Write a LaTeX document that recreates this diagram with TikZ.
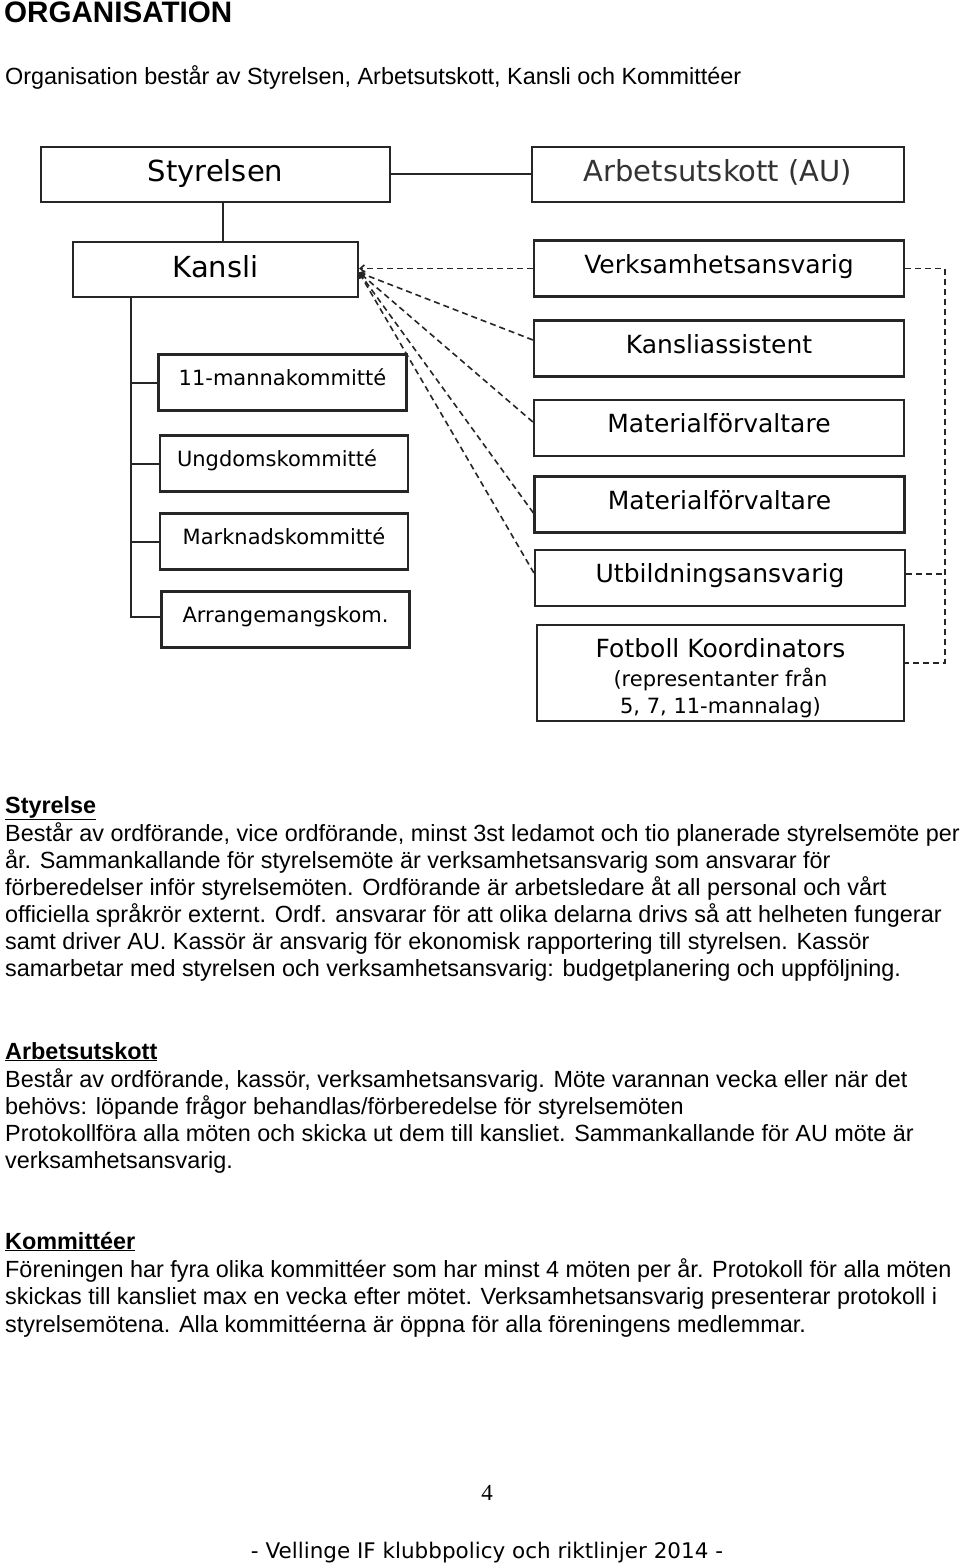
\documentclass[tikz,border=0pt]{standalone}
\usepackage{fontspec}
\setmainfont{Liberation Sans}
\newfontfamily\boxfont{DejaVu Sans}
\newfontfamily\numfont{Liberation Serif}
\usetikzlibrary{arrows.meta}
\colorlet{box line color}{black!85}
\tikzset{
    x={1pt},
    y={-1pt},
    org box/.style={
        draw=box line color,
        line width={2.2pt},
        inner sep=0pt,
        align=center,
        font={\boxfont\fontsize{#1}{27}\selectfont},
    },
    top box/.style={
        org box=29,
        text height=22pt,
        text depth=7pt,
        minimum height=55,
    },
    role box/.style={
        org box=25,
        text height=19pt,
        text depth=10pt,
        minimum width=370,
        minimum height=56,
    },
    committee box/.style={
        org box=21,
        text height=16pt,
        text depth=10.5pt,
        minimum width=248,
        minimum height=56,
    },
    tree line/.style={
        draw=box line color,
        line width={2pt},
    },
    link/.style={
        draw=black!85,
        line width={1.6pt},
        dash pattern=on 6pt off 4pt,
    },
    report link/.style={
        link,
        -{Straight Barb[length=4pt,width=7pt]},
    },
    body text/.style={
        anchor=base west,
        align=left,
        inner sep=0pt,
        font={\fontsize{23.4}{27}\selectfont},
    },
}

\begin{document}
\begin{tikzpicture}
\useasboundingbox (0,0) rectangle (960,1565);
% heading
\node[anchor=base west, inner sep=0pt, font={\bfseries\fontsize{29.6}{30}\selectfont}] (title) at (4,23) {ORGANISATION};
\node[body text] (intro) at (5,85) {Organisation består av Styrelsen, Arbetsutskott, Kansli och Kommittéer};
% boxes
\node[top box, minimum width=349] (styrelsen) at (215.5,174.5) {Styrelsen};
\node[top box, minimum width=372, text=black!80] (au) at (718,174.5) {Arbetsutskott (AU)};
\node[top box, minimum width=285] (kansli) at (215.5,269.5) {Kansli};
\node[role box] (verk) at (719,268.5) {Verksamhetsansvarig};
\node[role box] (kass) at (719,348.5) {Kansliassistent};
\node[role box] (mat1) at (719,428) {Materialförvaltare};
\node[role box] (mat2) at (719.5,504.5) {Materialförvaltare};
\node[role box] (utb) at (720,578) {Utbildningsansvarig};
\node[org box=21, minimum width=367, minimum height=96] (fotb) at (720.5,673)
    {\rule{0pt}{29pt}{\fontsize{25}{27}\selectfont Fotboll Koordinators}\\[2pt]
     (representanter från\\ 5, 7, 11-mannalag)};
\node[committee box] (manna) at (282.5,382.5) {11-mannakommitté};
\node[committee box] (ungdom) at (284,463.5) {Ungdomskommitté\hspace{14pt}};
\node[committee box] (markn) at (284,541.5) {Marknadskommitté};
\node[committee box] (arrang) at (285.5,619.5) {Arrangemangskom.};
% solid lines
\coordinate (trunk) at (131,0);
\draw[tree line] (styrelsen) -- (au);
\draw[tree line] ([xshift=7pt]styrelsen.south) -- ([xshift=7pt]kansli.north);
\draw[tree line] (kansli.south -| trunk) |- ([yshift=3pt]arrang.west);
\foreach \k in {manna,ungdom,markn}
    \draw[tree line] (\k.west) -- (\k.west -| trunk);
% dashed links
\draw[report link] (verk.west) -- (verk.west -| kansli.east);
\draw[report link] ([yshift=8.5pt]kass.west) -- ([yshift=-3pt]kansli.east);
\draw[report link] ([yshift=6pt]mat1.west) -- ([yshift=-3pt]kansli.east);
\draw[report link] ([yshift=-8.5pt]mat2.west) -- ([yshift=-3pt]kansli.east);
\draw[report link] ([yshift=5pt]utb.west) -- ([yshift=-3pt]kansli.east);
\coordinate (rail) at (945,0);
\draw[link] (verk.east) -- (verk.east -| rail) |- ([yshift=10pt]fotb.east);
\draw[link] ([yshift=4pt]utb.east) -- ([yshift=4pt]utb.east -| rail);
% text (anchored at the last line)
\node[body text] (styrelse text) at (5,976) {\textbf{\underline{Styrelse}}\\[1pt]
Består av ordförande, vice ordförande, minst 3st ledamot och tio planerade styrelsemöte per\\
år. Sammankallande för styrelsemöte är verksamhetsansvarig som ansvarar för\\
förberedelser inför styrelsemöten. Ordförande är arbetsledare åt all personal och vårt\\
officiella språkrör externt. Ordf. ansvarar för att olika delarna drivs så att helheten fungerar\\
samt driver AU. Kassör är ansvarig för ekonomisk rapportering till styrelsen. Kassör\\
samarbetar med styrelsen och verksamhetsansvarig: budgetplanering och uppföljning.};
\node[body text] (au text) at (5,1168) {\textbf{\underline{Arbetsutskott}}\\[1pt]
Består av ordförande, kassör, verksamhetsansvarig. Möte varannan vecka eller när det\\
behövs: löpande frågor behandlas/förberedelse för styrelsemöten\\
Protokollföra alla möten och skicka ut dem till kansliet. Sammankallande för AU möte är\\
verksamhetsansvarig.};
\node[body text] (komm text) at (5,1332) {\textbf{\underline{Kommittéer}}\\[1pt]
Föreningen har fyra olika kommittéer som har minst 4 möten per år. Protokoll för alla möten\\[0.5pt]
skickas till kansliet max en vecka efter mötet. Verksamhetsansvarig presenterar protokoll i\\[0.5pt]
styrelsemötena. Alla kommittéerna är öppna för alla föreningens medlemmar.};
% footer
\node[anchor=base, font={\numfont\fontsize{23}{25}\selectfont}] (page number) at (487,1500) {4};
\node[anchor=base, font={\boxfont\fontsize{21.5}{25}\selectfont}] (footer) at (487,1558) {- Vellinge IF klubbpolicy och riktlinjer 2014 -};
\end{tikzpicture}
\end{document}
